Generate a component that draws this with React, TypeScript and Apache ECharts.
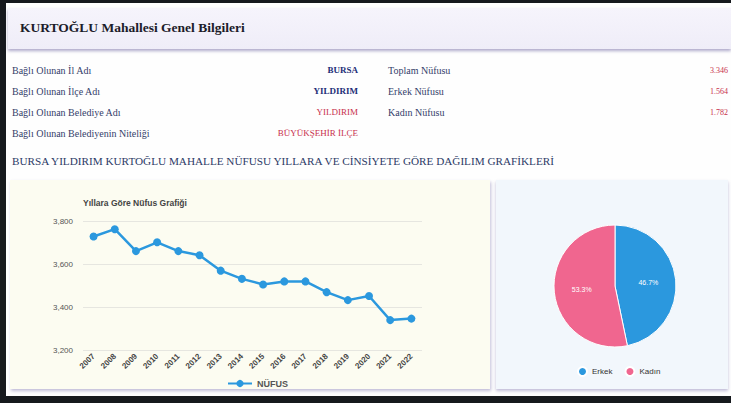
import React, { useEffect, useRef } from "react";
import * as echarts from "echarts";

const years = ["2007","2008","2009","2010","2011","2012","2013","2014","2015","2016","2017","2018","2019","2020","2021","2022"];
const population = [3728, 3762, 3660, 3701, 3660, 3641, 3569, 3531, 3505, 3519, 3519, 3469, 3432, 3451, 3339, 3346];
const genderNames = ["Erkek", "Kadın"];
const genderValues = [1564, 1782];
const yTicks = { min: 3200, max: 3800, interval: 200 };

const infoLeft = [
  { label: "Bağlı Olunan İl Adı", value: "BURSA", color: "#1e2f78", bold: true },
  { label: "Bağlı Olunan İlçe Adı", value: "YILDIRIM", color: "#1e2f78", bold: true },
  { label: "Bağlı Olunan Belediye Adı", value: "YILDIRIM", color: "#c8304c", bold: false },
  { label: "Bağlı Olunan Belediyenin Niteliği", value: "BÜYÜKŞEHİR İLÇE", color: "#c8304c", bold: false },
];
const infoRight = [
  { label: "Toplam Nüfusu", value: "3.346" },
  { label: "Erkek Nüfusu", value: "1.564" },
  { label: "Kadın Nüfusu", value: "1.782" },
];

const SERIF = "'Liberation Serif', 'DejaVu Serif', serif";
const SANS = "'Liberation Sans', Arial, sans-serif";

export default function App() {
  const ref = useRef<HTMLDivElement>(null);
  useEffect(() => {
    if (!ref.current) return;
    const chart = echarts.init(ref.current, null, { renderer: "svg" });
    const rowY = [70, 91, 112, 133];
    const graphics: any[] = [
      {
        type: "text", left: 20, top: 20,
        style: { text: "KURTOĞLU Mahallesi Genel Bilgileri", font: `bold 13.5px ${SERIF}`, fill: "#1c1c2a" },
      },
      {
        type: "text", left: 12, top: 155,
        style: { text: "BURSA YILDIRIM KURTOĞLU MAHALLE NÜFUSU YILLARA VE CİNSİYETE GÖRE DAĞILIM GRAFİKLERİ", font: `11.2px ${SERIF}`, fill: "#2c3a66" },
      },
      {
        type: "text", left: 83, top: 198,
        style: { text: "Yıllara Göre Nüfus Grafiği", font: `bold 8.5px ${SANS}`, fill: "#444" },
      },
    ];
    infoLeft.forEach((r, i) => {
      graphics.push({
        type: "text", x: 12, y: rowY[i],
        style: { text: r.label, font: `10px ${SERIF}`, fill: "#34406a", verticalAlign: "middle" },
      });
      graphics.push({
        type: "text", x: 358, y: rowY[i],
        style: { text: r.value, font: `${r.bold ? "bold " : ""}9px ${SERIF}`, fill: r.color, align: "right", verticalAlign: "middle" },
      });
    });
    infoRight.forEach((r, i) => {
      graphics.push({
        type: "text", x: 388, y: rowY[i],
        style: { text: r.label, font: `10px ${SERIF}`, fill: "#34406a", verticalAlign: "middle" },
      });
      graphics.push({
        type: "text", x: 710, y: rowY[i],
        style: { text: r.value, font: `8px ${SERIF}`, fill: "#c8304c", verticalAlign: "middle" },
      });
    });

    chart.setOption({
      animation: false,
      backgroundColor: "transparent",
      graphic: graphics,
      legend: [
        {
          data: ["NÜFUS"], left: 222, top: 374, itemWidth: 24, itemHeight: 9,
          textStyle: { fontFamily: SANS, fontSize: 9, fontWeight: "bold", color: "#555" },
        },
        {
          data: genderNames, left: 572, top: 361, itemWidth: 9, itemHeight: 9, itemGap: 12, icon: "circle",
          textStyle: { fontFamily: SANS, fontSize: 8, color: "#333" },
        },
      ],
      grid: { left: 83, right: 309, top: 221, bottom: 53 },
      xAxis: {
        type: "category", data: years, boundaryGap: true,
        axisLine: { show: false }, axisTick: { show: false },
        axisLabel: { rotate: 45, interval: 0, fontSize: 8, fontWeight: "bold", color: "#444", fontFamily: SANS, margin: 5 },
      },
      yAxis: {
        type: "value", min: yTicks.min, max: yTicks.max, interval: yTicks.interval,
        axisLabel: { fontSize: 8, color: "#555", fontFamily: SANS, margin: 10, formatter: (v: number) => v.toLocaleString("en-US") },
        splitLine: { lineStyle: { color: "#e6e6e0" } },
      },
      series: [
        {
          name: "NÜFUS", type: "line", data: population,
          symbol: "circle", symbolSize: 8,
          itemStyle: { color: "#2b98de" },
          lineStyle: { color: "#2b98de", width: 2.5 },
        },
        {
          name: "Cinsiyet", type: "pie", center: [615, 286], radius: 61, startAngle: 90, clockwise: true,
          data: genderNames.map((n, i) => ({ name: n, value: genderValues[i] })),
          color: ["#2b98de", "#f0668f"],
          itemStyle: { borderColor: "#fff", borderWidth: 1 },
          label: {
            position: "inside", color: "#fff", fontSize: 7, fontFamily: SANS,
            formatter: (p: any) => p.percent.toFixed(1) + "%",
          },
          labelLine: { show: false },
        },
      ],
    });
    return () => chart.dispose();
  }, []);

  return (
    <div style={{ position: "fixed", left: 0, top: 0, width: 731, height: 403, background: "#16191d", overflow: "hidden" }}>
      <div style={{ position: "absolute", left: 6, top: 3, width: 725, height: 393, background: "#fefefe" }} />
      <div style={{ position: "absolute", left: 8, top: 8, width: 723, height: 41, background: "linear-gradient(180deg,#f6f4fc,#efedf8)", boxShadow: "0 2px 3px rgba(110,100,160,0.55)" }} />
      <div style={{ position: "absolute", left: 10, top: 180, width: 480, height: 209, background: "#fcfcf1", boxShadow: "1px 2px 3px rgba(120,110,170,0.45)" }} />
      <div style={{ position: "absolute", left: 496, top: 180, width: 232, height: 209, background: "#f2f7fc", boxShadow: "0 2px 3px rgba(120,110,170,0.45)" }} />
      <div ref={ref} style={{ position: "absolute", left: 0, top: 0, width: 731, height: 403 }} />
    </div>
  );
}
